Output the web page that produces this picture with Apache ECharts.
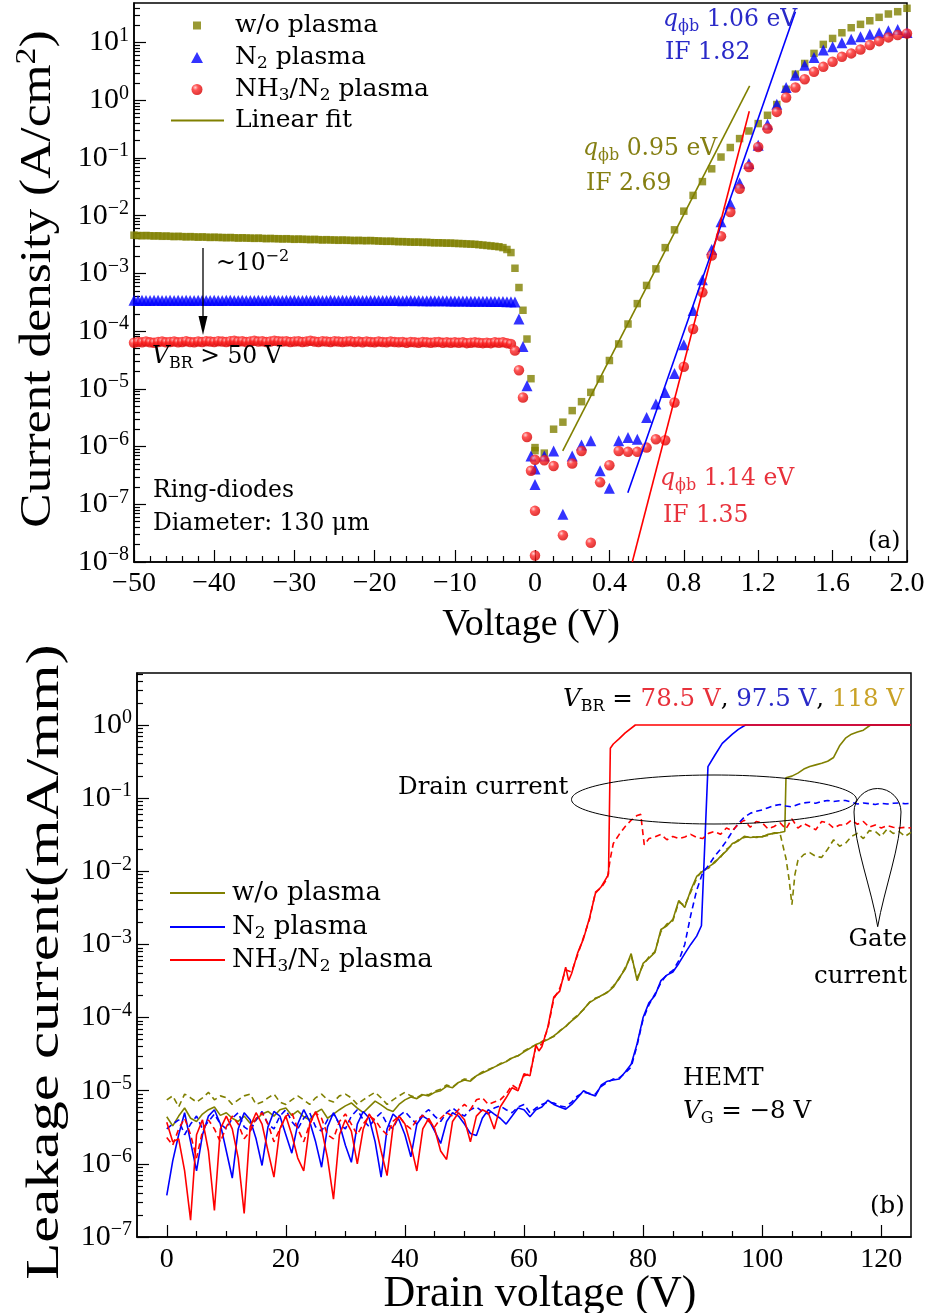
<!DOCTYPE html>
<html>
<head>
<meta charset="utf-8">
<title>Ring-diode and HEMT leakage</title>
<script src="https://cdn.jsdelivr.net/npm/echarts@6.0.0/dist/echarts.min.js"></script>
<style>
html,body{margin:0;padding:0;background:#ffffff;}
#chart{width:930px;height:1313px;}
</style>
</head>
<body>
<div id="chart"></div>
<script>
// ================= DATA =================
function range(a, b) { const r = []; for (let v = a; v <= b; v++) r.push(v); return r; }

// ---- Panel (a): ring diodes, current density (A/cm^2) ----
const revV = Array.from({length: 101}, (_, i) => -50 + i * 0.5);            // reverse sweep grid (V)
const fwdV = Array.from({length: 41}, (_, i) => +(i * 0.05).toFixed(2));      // forward sweep grid (V)

const woRevJ = [
  4.6e-3,4.55e-3,4.5e-3,4.55e-3,4.5e-3,4.45e-3,4.5e-3,4.4e-3,4.45e-3,4.4e-3,4.35e-3,4.4e-3,4.35e-3,4.3e-3,4.35e-3,4.3e-3,4.25e-3,4.3e-3,4.25e-3,4.2e-3,4.25e-3,
  4.2e-3,4.2e-3,4.15e-3,4.2e-3,4.15e-3,4.1e-3,4.15e-3,4.1e-3,4.1e-3,4.05e-3,4.1e-3,4.05e-3,4.0e-3,4.05e-3,4.0e-3,4.0e-3,3.95e-3,4.0e-3,3.95e-3,3.9e-3,
  3.95e-3,3.9e-3,3.9e-3,3.85e-3,3.9e-3,3.85e-3,3.8e-3,3.85e-3,3.8e-3,3.8e-3,3.75e-3,3.8e-3,3.75e-3,3.75e-3,3.7e-3,3.75e-3,3.7e-3,3.7e-3,3.72e-3,3.68e-3,
  3.65e-3,3.62e-3,3.6e-3,3.62e-3,3.58e-3,3.55e-3,3.56e-3,3.52e-3,3.5e-3,3.48e-3,3.5e-3,3.45e-3,3.46e-3,3.42e-3,3.4e-3,3.4e-3,3.38e-3,3.35e-3,3.36e-3,3.32e-3,
  3.3e-3,3.28e-3,3.25e-3,3.22e-3,3.2e-3,3.15e-3,3.1e-3,3.05e-3,3.0e-3,2.95e-3,2.9e-3,2.8e-3,2.6e-3,
  2.3e-3,1.23e-3,5.7e-4,2.3e-4,7.3e-5,1.5e-5,9.6e-7
];
const woFwdJ = [
  8.5e-7,7.7e-7,2.0e-6,2.65e-6,4.2e-6,6.0e-6,8.7e-6,1.48e-5,3.1e-5,6.0e-5,
  1.33e-4,3.0e-4,6.2e-4,1.2e-3,2.8e-3,5.7e-3,1.2e-2,2.25e-2,3.9e-2,6.5e-2,
  0.104,0.152,0.217,0.294,0.395,0.55,0.845,1.55,2.84,4.35,
  6.5,9.3,11.8,14.8,18.1,20.7,23.9,27.4,31.3,34.3,39.3
];
const n2RevJ = [
  3.42e-4,3.40e-4,3.43e-4,3.41e-4,3.40e-4,3.42e-4,3.44e-4,3.41e-4,3.40e-4,3.42e-4,
  3.41e-4,3.43e-4,3.40e-4,3.42e-4,3.41e-4,3.40e-4,3.43e-4,3.42e-4,3.40e-4,3.41e-4,
  3.42e-4,3.41e-4,3.40e-4,3.43e-4,3.42e-4,3.40e-4,3.41e-4,3.43e-4,3.41e-4,3.40e-4,
  3.41e-4,3.42e-4,3.40e-4,3.41e-4,3.43e-4,3.42e-4,3.40e-4,3.41e-4,3.42e-4,3.40e-4,
  3.42e-4,3.40e-4,3.41e-4,3.43e-4,3.41e-4,3.40e-4,3.42e-4,3.41e-4,3.40e-4,3.42e-4,
  3.41e-4,3.40e-4,3.42e-4,3.41e-4,3.40e-4,3.42e-4,3.41e-4,3.40e-4,3.41e-4,3.40e-4,
  3.40e-4,3.41e-4,3.39e-4,3.40e-4,3.41e-4,3.39e-4,3.40e-4,3.38e-4,3.40e-4,3.39e-4,
  3.38e-4,3.39e-4,3.37e-4,3.38e-4,3.36e-4,3.37e-4,3.36e-4,3.35e-4,3.36e-4,3.34e-4,
  3.33e-4,3.34e-4,3.32e-4,3.33e-4,3.31e-4,3.30e-4,3.31e-4,3.30e-4,3.29e-4,3.28e-4,
  3.27e-4,3.26e-4,3.25e-4,3.24e-4,3.22e-4,3.2e-4,
  1.63e-4,5.4e-5,1.13e-5,6.9e-7,4.1e-7
];
const n2FwdJ = [
  2.2e-7,6.9e-7,8.4e-7,6.7e-8,6.9e-7,1.07e-6,1.26e-6,3.8e-7,1.9e-7,1.26e-6,
  1.43e-6,1.34e-6,3.2e-6,5.45e-6,8.65e-6,1.85e-5,5.8e-5,2.27e-4,7.8e-4,2.6e-3,
  7.9e-3,1.62e-2,3.7e-2,8.0e-2,0.166,0.385,0.855,1.67,2.73,4.06,
  5.53,7.41,8.45,9.9,11.4,12.6,13.9,14.8,16.0,16.9,15.0
];
const nh3RevJ = [
  6.3e-5,6.5e-5,6.4e-5,6.6e-5,6.4e-5,6.3e-5,6.5e-5,6.6e-5,6.4e-5,6.5e-5,
  6.6e-5,6.4e-5,6.5e-5,6.7e-5,6.5e-5,6.4e-5,6.6e-5,6.5e-5,6.7e-5,6.6e-5,
  6.5e-5,6.7e-5,6.6e-5,6.5e-5,6.7e-5,6.8e-5,6.6e-5,6.7e-5,6.5e-5,6.6e-5,
  6.8e-5,6.6e-5,6.7e-5,6.5e-5,6.6e-5,6.8e-5,6.7e-5,6.6e-5,6.7e-5,6.5e-5,
  6.6e-5,6.7e-5,6.5e-5,6.6e-5,6.8e-5,6.6e-5,6.5e-5,6.7e-5,6.6e-5,6.5e-5,
  6.7e-5,6.6e-5,6.5e-5,6.6e-5,6.7e-5,6.5e-5,6.6e-5,6.4e-5,6.6e-5,6.5e-5,
  6.4e-5,6.6e-5,6.5e-5,6.4e-5,6.6e-5,6.5e-5,6.4e-5,6.5e-5,6.3e-5,6.5e-5,
  6.4e-5,6.3e-5,6.5e-5,6.4e-5,6.3e-5,6.4e-5,6.5e-5,6.3e-5,6.4e-5,6.3e-5,
  6.4e-5,6.3e-5,6.4e-5,6.2e-5,6.3e-5,6.4e-5,6.3e-5,6.2e-5,6.3e-5,6.2e-5,
  6.4e-5,6.3e-5,6.4e-5,6.2e-5,6.0e-5,4.6e-5,
  2.1e-5,7.1e-6,1.47e-6,3.8e-7,5.9e-7
];
const nh3FwdJ = [
  7.7e-8,5.8e-7,4.6e-7,2.9e-8,5.1e-7,8.4e-7,2.15e-8,2.4e-7,4.75e-7,8.4e-7,
  8.1e-7,8.1e-7,9.6e-7,1.34e-6,1.29e-6,5.8e-6,2.42e-5,1.09e-4,4.7e-4,2.05e-3,
  4.4e-3,1.16e-2,2.94e-2,6.98e-2,0.155,0.324,0.63,1.12,1.67,2.32,
  3.11,3.8,4.64,5.67,6.5,7.6,9.05,10.6,12.3,13.5,14.4
];
const nh3ExtraV = [0.0];
const nh3ExtraJ = [1.3e-8];

// linear fits (end points)
const fitWoV = [0.149, 1.154],  fitWoJ = [8.4e-7, 1.78];
const fitN2V = [0.499, 1.40],   fitN2J = [1.59e-7, 34.3];
const fitNh3V = [0.523, 1.152], fitNh3J = [1.0e-8, 0.647];

// axis ticks, panel (a)
const topXMajor  = [-50, -40, -30, -20, -10, 0, 0.4, 0.8, 1.2, 1.6, 2.0];
const topXLabels = ['\u221250', '\u221240', '\u221230', '\u221220', '\u221210', '0', '0.4', '0.8', '1.2', '1.6', '2.0'];
const topYDecades = [-8, -7, -6, -5, -4, -3, -2, -1, 0, 1];

// ---- Panel (b): HEMT leakage (mA/mm) ----
const bLowV = range(0, 60);

const woDrainLow = [4.4e-6,3.3e-6,4.5e-6,5.8e-6,4.2e-6,3.8e-6,4.8e-6,5.5e-6,6.0e-6,4.6e-6,5.0e-6,4.2e-6,3.8e-6,4.5e-6,3.6e-6,4.0e-6,4.8e-6,5.2e-6,4.5e-6,5.5e-6,5.8e-6,4.6e-6,5.3e-6,4.4e-6,4.0e-6,5.0e-6,5.6e-6,4.2e-6,4.8e-6,5.5e-6,6.2e-6,6.8e-6,5.8e-6,5.0e-6,6.0e-6,7.2e-6,6.4e-6,5.6e-6,5.2e-6,6.5e-6,7.5e-6,8.2e-6,7.8e-6,8.8e-6,8.5e-6,9.5e-6,1.0e-5,1.15e-5,1.1e-5,1.3e-5,1.4e-5,1.35e-5,1.6e-5,1.75e-5,1.9e-5,2.1e-5,2.3e-5,2.5e-5,2.8e-5,3.0e-5,3.4e-5];
const woDrainHiV = range(61, 103).concat([103.8, 104, 105, 106, 107, 108, 109, 110, 111, 112, 113, 114, 115, 116, 117, 118.2, 125]);
const woDrainHiI = [3.8e-5,4.3e-5,4.6e-5,5.0e-5,5.6e-5,6.5e-5,7.6e-5,9.0e-5,1.05e-4,1.3e-4,1.6e-4,1.8e-4,2.0e-4,2.2e-4,2.6e-4,3.5e-4,4.6e-4,7.5e-4,3.2e-4,5.5e-4,6.5e-4,7.8e-4,1.6e-3,1.8e-3,2.2e-3,4.0e-3,3.2e-3,5.5e-3,8.5e-3,1.0e-2,1.15e-2,1.3e-2,1.6e-2,1.9e-2,2.4e-2,2.6e-2,3.0e-2,2.9e-2,2.95e-2,2.95e-2,3.2e-2,3.3e-2,3.4e-2,
  3.5e-2,0.19,0.2,0.22,0.25,0.27,0.285,0.30,0.32,0.36,0.52,0.66,0.75,0.8,0.85,1.0,1.0];
const woGateLow = [7.5e-6,8.5e-6,6.0e-6,9.0e-6,8.0e-6,7.0e-6,8.0e-6,9.5e-6,7.5e-6,8.5e-6,8.0e-6,6.5e-6,7.5e-6,8.5e-6,9.0e-6,6.5e-6,7.0e-6,8.0e-6,9.0e-6,7.0e-6,6.5e-6,7.5e-6,8.5e-6,7.5e-6,6.5e-6,8.0e-6,9.0e-6,7.5e-6,7.0e-6,8.5e-6,9.0e-6,8.0e-6,6.5e-6,7.5e-6,8.5e-6,9.5e-6,8.0e-6,6.5e-6,7.5e-6,8.5e-6,9.5e-6,8.5e-6,8.0e-6,9.0e-6,8.8e-6,9.8e-6,1.05e-5,1.2e-5,1.12e-5,1.3e-5,1.45e-5,1.4e-5,1.6e-5,1.8e-5,1.95e-5,2.1e-5,2.35e-5,2.5e-5,2.85e-5,3.0e-5,3.5e-5];
const woGateHiV = range(61, 103).concat([104, 104.5, 105, 105.5]).concat(range(106, 125));
const woGateHiI = [3.9e-5,4.2e-5,4.7e-5,5.1e-5,5.5e-5,6.6e-5,7.5e-5,9.2e-5,1.08e-4,1.28e-4,1.62e-4,1.85e-4,1.95e-4,2.25e-4,2.7e-4,3.4e-4,4.8e-4,7.0e-4,3.5e-4,5.2e-4,6.8e-4,8.0e-4,1.5e-3,1.9e-3,2.1e-3,3.8e-3,3.4e-3,5.2e-3,8.0e-3,1.05e-2,1.1e-2,1.35e-2,1.55e-2,2.0e-2,2.3e-2,2.7e-2,2.9e-2,3.0e-2,2.9e-2,3.0e-2,3.1e-2,3.35e-2,3.3e-2,
  1.5e-2,8e-3,3.5e-3,9e-3,
  1.4e-2,1.7e-2,1.8e-2,1.6e-2,1.55e-2,2.0e-2,2.7e-2,2.2e-2,2.4e-2,3.0e-2,3.3e-2,2.8e-2,3.6e-2,3.5e-2,3.0e-2,3.8e-2,3.3e-2,3.5e-2,3.0e-2,3.4e-2];

const n2DrainLow = [3.7e-7,1.1e-6,2.5e-6,5.0e-6,2.0e-6,8.0e-7,2.5e-6,4.5e-6,5.5e-6,3.5e-6,1.5e-6,6.4e-7,3.0e-6,5.0e-6,4.0e-6,2.2e-6,9.5e-7,3.2e-6,5.2e-6,4.5e-6,2.5e-6,1.4e-6,3.5e-6,5.5e-6,3.8e-6,2.0e-6,9.0e-7,3.2e-6,5.0e-6,3.5e-6,1.8e-6,1.05e-6,3.5e-6,5.2e-6,4.2e-6,2.0e-6,6.6e-7,3.0e-6,4.8e-6,4.0e-6,2.5e-6,1.25e-6,3.5e-6,4.5e-6,4.0e-6,2.8e-6,1.9e-6,3.8e-6,5.0e-6,4.5e-6,3.5e-6,2.6e-6,2.45e-6,4.2e-6,5.5e-6,4.8e-6,4.2e-6,3.5e-6,4.5e-6,5.8e-6,5.5e-6];
const n2DrainHiV = range(61, 89).concat([89.8, 90.9, 92, 93.3, 95, 96, 97.2, 125]);
const n2DrainHiI = [4.4e-6,5.5e-6,6.0e-6,7.4e-6,6.5e-6,6.0e-6,5.6e-6,6.5e-6,8.0e-6,1.0e-5,9.0e-6,8.5e-6,1.2e-5,1.35e-5,1.4e-5,1.45e-5,1.8e-5,2.3e-5,4.4e-5,1.0e-4,1.6e-4,2.0e-4,3.2e-4,3.8e-4,4.2e-4,5.5e-4,7.5e-4,1.0e-3,1.3e-3,
  1.8e-3,0.27,0.38,0.56,0.75,0.87,1.0,1.0];
const n2GateLow = [3.0e-6,3.5e-6,4.0e-6,2.5e-6,3.5e-6,4.5e-6,3.0e-6,3.8e-6,4.8e-6,3.5e-6,3.0e-6,4.2e-6,5.0e-6,3.2e-6,2.8e-6,4.0e-6,5.2e-6,3.5e-6,3.0e-6,4.5e-6,5.5e-6,3.8e-6,3.0e-6,4.2e-6,5.0e-6,3.2e-6,2.8e-6,4.0e-6,4.8e-6,3.5e-6,3.0e-6,4.5e-6,5.5e-6,4.0e-6,3.2e-6,4.2e-6,5.0e-6,3.5e-6,3.0e-6,4.5e-6,5.2e-6,4.2e-6,3.5e-6,4.8e-6,5.5e-6,4.5e-6,3.8e-6,5.0e-6,5.8e-6,5.0e-6,4.5e-6,5.5e-6,6.0e-6,5.2e-6,4.8e-6,5.8e-6,6.2e-6,5.5e-6,5.0e-6,6.0e-6,6.5e-6];
const n2GateHiV = range(61, 125);
const n2GateHiI = [5.0e-6,5.8e-6,6.5e-6,7.0e-6,6.8e-6,6.2e-6,6.0e-6,7.0e-6,8.5e-6,9.5e-6,9.2e-6,9.0e-6,1.15e-5,1.3e-5,1.45e-5,1.5e-5,1.75e-5,2.1e-5,4.2e-5,9.5e-5,1.5e-4,2.1e-4,3.0e-4,3.9e-4,4.4e-4,
  6.0e-4,1.0e-3,2.5e-3,5.5e-3,9.5e-3,1.2e-2,1.6e-2,2.0e-2,2.6e-2,3.5e-2,4.5e-2,5.5e-2,6.2e-2,6.6e-2,6.9e-2,7.4e-2,7.9e-2,8.2e-2,7.8e-2,7.6e-2,8.2e-2,8.6e-2,8.8e-2,8.5e-2,9.0e-2,9.3e-2,9.0e-2,9.2e-2,9.3e-2,8.8e-2,8.3e-2,8.6e-2,8.4e-2,8.2e-2,8.5e-2,8.3e-2,8.5e-2,8.6e-2,8.4e-2,8.5e-2];

const nh3DrainLow = [3.7e-6,2.0e-6,2.2e-6,8e-7,1.7e-7,2.5e-6,4.0e-6,1.5e-6,2.3e-7,3.0e-6,4.5e-6,3.0e-6,1.2e-6,2.1e-7,3.2e-6,5.0e-6,3.5e-6,1.5e-6,6.6e-7,3.0e-6,4.5e-6,2.5e-6,1.2e-6,8.0e-7,3.5e-6,5.2e-6,3.0e-6,1.2e-6,3.3e-7,2.5e-6,4.0e-6,2.8e-6,1.0e-6,3.0e-6,4.8e-6,3.5e-6,1.5e-6,6.9e-7,3.2e-6,4.5e-6,3.5e-6,1.8e-6,8.0e-7,3.0e-6,4.2e-6,3.0e-6,1.5e-6,1.15e-6,3.8e-6,5.0e-6,4.0e-6,2.0e-6,4.5e-6,5.5e-6,5.0e-6,3.0e-6,6.0e-6,8.0e-6,1.1e-5,1.0e-5,1.7e-5];
const nh3DrainHiV = [61, 62, 62.5, 63, 64, 65, 66, 67, 67.5, 68, 69, 70, 71, 72, 73, 74, 74.2, 74.5, 75, 76, 77, 78.7, 125];
const nh3DrainHiI = [1.6e-5,4.2e-5,3.5e-5,4.0e-5,7.4e-5,1.9e-4,2.3e-4,4.9e-4,3.2e-4,4.0e-4,7.6e-4,1.2e-3,2.3e-3,5.0e-3,6.2e-3,8.5e-3,9.3e-3,0.48,0.55,0.65,0.78,1.0,1.0];
const nh3GateLow = [2.3e-6,1.8e-6,3.0e-6,4.2e-6,2.5e-6,1.2e-6,2.8e-6,4.0e-6,3.0e-6,2.0e-6,3.2e-6,4.5e-6,3.5e-6,2.2e-6,2.8e-6,4.2e-6,5.0e-6,3.5e-6,2.0e-6,3.0e-6,4.5e-6,5.0e-6,3.0e-6,2.0e-6,3.5e-6,5.0e-6,4.2e-6,2.5e-6,2.2e-6,3.8e-6,4.8e-6,3.5e-6,2.5e-6,3.5e-6,4.5e-6,4.0e-6,3.0e-6,2.5e-6,3.8e-6,4.5e-6,3.5e-6,3.0e-6,4.0e-6,4.6e-6,3.8e-6,3.2e-6,4.2e-6,5.0e-6,4.5e-6,5.5e-6,6.5e-6,5.5e-6,7.5e-6,8.0e-6,6.5e-6,7.0e-6,7.5e-6,9.0e-6,1.2e-5,1.05e-5,1.6e-5];
const nh3GateHiV = range(61, 74).concat([74.5, 75, 76, 77, 78, 79, 79.6, 80.2]).concat(range(81, 125));
const nh3GateHiI = [1.7e-5,4.0e-5,4.3e-5,7.0e-5,1.8e-4,2.5e-4,4.5e-4,4.2e-4,7.2e-4,1.25e-3,2.2e-3,5.2e-3,6.0e-3,8.0e-3,
  1.5e-2,2.4e-2,3.2e-2,4.1e-2,5.0e-2,5.8e-2,6.0e-2,2.3e-2,
  2.8e-2,2.95e-2,3.2e-2,2.7e-2,3.0e-2,2.8e-2,2.95e-2,3.2e-2,2.9e-2,2.8e-2,3.3e-2,3.5e-2,3.2e-2,3.9e-2,3.6e-2,4.4e-2,5.0e-2,4.0e-2,4.8e-2,4.6e-2,3.8e-2,4.1e-2,4.6e-2,3.8e-2,5.2e-2,3.9e-2,4.5e-2,4.1e-2,3.7e-2,4.8e-2,4.6e-2,3.9e-2,4.3e-2,4.3e-2,5.0e-2,4.4e-2,4.8e-2,4.0e-2,4.3e-2,3.9e-2,4.2e-2,4.0e-2,3.9e-2,4.0e-2,3.9e-2];

const botXMajor = [0, 20, 40, 60, 80, 100, 120];
const botYDecades = [-7, -6, -5, -4, -3, -2, -1, 0];

// ================= SCALES / STYLE =================
const FF = 'DejaVu Serif';
const FT = 'Liberation Serif';
const NEG_PX = 8.02, POS_PX = 186;          // broken voltage axis of panel (a)
const ux = v => (v < 0 ? v * NEG_PX : v * POS_PX);
const lg = Math.log10;
const C_OL = '#808000', C_BL = '#0000ff', C_RD = '#ff0000';
const T_BL = '#2a2ac8', T_OL = '#857f12', T_RD = '#e8313b', T_GD = '#c9a227';

function pts(vs, js, fx) { return vs.map((v, k) => [fx ? fx(v) : v, lg(js[k])]); }

const topXMinor = [];
for (let v = -48; v < 0; v += 2) if (v % 10 !== 0) topXMinor.push(ux(v));
for (let k = 1; k < 20; k++) if (k % 4 !== 0) topXMinor.push(ux(k / 10));
const topXLabelMap = {};
topXMajor.forEach((v, i) => { topXLabelMap[ux(v).toFixed(3)] = topXLabels[i]; });

const TOP_YMAX = 1.686, BOT_YMAX = 0.711;
function logMinor(d0, d1, max) {
  const r = [];
  for (let n = d0; n <= d1; n++) for (let k = 2; k <= 9; k++) { const t = n + lg(k); if (t < max) r.push(t); }
  return r;
}
const botXMinor = [];
for (let v = 5; v < 125; v += 5) if (v % 20 !== 0) botXMinor.push(v);

const supFmt = v => { const n = Math.round(v); return '{b|10}{p|' + (n < 0 ? '\u2212' + (-n) : n) + '}'; };
const yRich = {
  b: {fontFamily: FT, fontSize: 30, lineHeight: 34, color: '#000'},
  p: {fontFamily: FT, fontSize: 20, lineHeight: 22, verticalAlign: 'top', color: '#000'}
};

function mkRich(fs) {
  const s = Math.round(fs * 0.66);
  return {
    r:  {fontFamily: FF, fontSize: fs, lineHeight: 30},
    i:  {fontFamily: FF, fontSize: fs, lineHeight: 30, fontStyle: 'italic'},
    sb: {fontFamily: FF, fontSize: s, lineHeight: 16, verticalAlign: 'bottom'},
    sp: {fontFamily: FF, fontSize: s, lineHeight: 20, verticalAlign: 'top'},
    rd: {fontFamily: FF, fontSize: fs, lineHeight: 30, fill: T_RD, color: T_RD},
    bl: {fontFamily: FF, fontSize: fs, lineHeight: 30, fill: T_BL, color: T_BL},
    gd: {fontFamily: FF, fontSize: fs, lineHeight: 30, fill: T_GD, color: T_GD}
  };
}
const RICH_A = mkRich(23.5), RICH_B = mkRich(24.5);
const RICH_T = {
  t:  {fontFamily: FT, fontSize: 38, lineHeight: 44},
  tb: {fontFamily: FT, fontSize: 44, lineHeight: 50},
  ty: {fontFamily: FT, fontSize: 44, lineHeight: 50},
  tyb:{fontFamily: FT, fontSize: 46, lineHeight: 52},
  tp: {fontFamily: FT, fontSize: 29, lineHeight: 32, verticalAlign: 'top'}
};
function txt(x, y, text, rich, fill, align, extra) {
  return Object.assign({type: 'text', x: x, y: y, z: 50,
    style: {text: text, rich: rich, fill: fill || '#000', align: align || 'left', verticalAlign: 'middle', fontFamily: FF, fontSize: 23}}, extra || {});
}

function minorAxis(gridIndex, min, max, ticks, isX) {
  return {gridIndex, type: 'value', min, max, position: isX ? 'bottom' : 'left',
    axisLine: {show: false, onZero: false}, axisLabel: {show: false}, splitLine: {show: false},
    axisTick: {show: true, inside: true, length: 6, customValues: ticks, lineStyle: {color: '#000', width: 1.2}}};
}

const legendText = {
  'w/o plasma': '{r|w/o plasma}',
  'N2 plasma': '{r|N}{sb|2}{r| plasma}',
  'NH3/N2 plasma': '{r|NH}{sb|3}{r|/N}{sb|2}{r| plasma}',
  'Linear fit': '{r|Linear fit}'
};
function legendItem(name, left, top, w, h, padLeft, fs, icon) {
  const l = {data: [name], left: left, top: top, padding: 0, itemWidth: w, itemHeight: h, selectedMode: false,
    formatter: n => legendText[n.replace(/^b:/, '')],
    textStyle: {fontFamily: FF, fontSize: fs, color: '#000', padding: [0, 0, 0, padLeft], rich: mkRich(fs)}};
  if (icon) l.icon = icon;
  return l;
}

const redBall = {type: 'radial', x: 0.35, y: 0.32, r: 0.7,
  colorStops: [{offset: 0, color: '#ffc8c8'}, {offset: 0.35, color: '#ff2a2a'}, {offset: 1, color: '#d60000'}]};

const option = {
  animation: false,
  backgroundColor: '#ffffff',
  grid: [
    {left: 134, top: 3, width: 773, height: 559, show: true, borderColor: '#000', borderWidth: 1.5, backgroundColor: 'transparent'},
    {left: 137, top: 673, width: 774, height: 564, show: true, borderColor: '#000', borderWidth: 1.5, backgroundColor: 'transparent'}
  ],
  xAxis: [
    {gridIndex: 0, type: 'value', min: ux(-50), max: ux(2.0), position: 'bottom',
      axisLine: {show: true, onZero: false, lineStyle: {color: '#000', width: 1.5}},
      axisTick: {show: true, inside: true, length: 12, customValues: topXMajor.map(ux), lineStyle: {color: '#000', width: 1.2}},
      axisLabel: {show: true, customValues: topXMajor.map(ux), formatter: v => topXLabelMap[v.toFixed(3)] || '', margin: 8,
        fontFamily: FT, fontSize: 28, color: '#000'},
      splitLine: {show: false}},
    minorAxis(0, ux(-50), ux(2.0), topXMinor, true),
    {gridIndex: 1, type: 'value', min: -5, max: 125, position: 'bottom',
      axisLine: {show: true, onZero: false, lineStyle: {color: '#000', width: 1.5}},
      axisTick: {show: true, inside: true, length: 12, customValues: botXMajor, lineStyle: {color: '#000', width: 1.2}},
      axisLabel: {show: true, customValues: botXMajor, margin: 9, fontFamily: FT, fontSize: 28, color: '#000'},
      splitLine: {show: false}},
    minorAxis(1, -5, 125, botXMinor, true)
  ],
  yAxis: [
    {gridIndex: 0, type: 'value', min: -8, max: TOP_YMAX, position: 'left',
      axisLine: {show: true, onZero: false, lineStyle: {color: '#000', width: 1.5}},
      axisTick: {show: true, inside: true, length: 12, customValues: topYDecades, lineStyle: {color: '#000', width: 1.2}},
      axisLabel: {show: true, customValues: topYDecades, formatter: supFmt, rich: yRich, margin: 5},
      splitLine: {show: false}},
    minorAxis(0, -8, TOP_YMAX, logMinor(-8, 1, TOP_YMAX), false),
    {gridIndex: 1, type: 'value', min: -7, max: BOT_YMAX, position: 'left',
      axisLine: {show: true, onZero: false, lineStyle: {color: '#000', width: 1.5}},
      axisTick: {show: true, inside: true, length: 12, customValues: botYDecades, lineStyle: {color: '#000', width: 1.2}},
      axisLabel: {show: true, customValues: botYDecades, formatter: supFmt, rich: yRich, margin: 5},
      splitLine: {show: false}},
    minorAxis(1, -7, BOT_YMAX, logMinor(-7, 0, BOT_YMAX), false)
  ],
  legend: [
    legendItem('w/o plasma', 193, 13, 8, 8, 29, 25),
    legendItem('N2 plasma', 191, 45, 12, 11, 27, 25),
    legendItem('NH3/N2 plasma', 191.5, 77, 11, 11, 27.5, 25),
    legendItem('Linear fit', 171, 108, 53, 2, 6, 25, 'rect'),
    legendItem('b:w/o plasma', 170, 880, 55, 2, 2, 26, 'rect'),
    legendItem('b:N2 plasma', 170, 914, 55, 2, 2, 26, 'rect'),
    legendItem('b:NH3/N2 plasma', 170, 947, 55, 2, 2, 26, 'rect')
  ],
  series: [
    // ---- panel (a)
    {name: 'w/o plasma', type: 'scatter', xAxisIndex: 0, yAxisIndex: 0, symbol: 'rect', symbolSize: 7.5,
      itemStyle: {color: C_OL}, data: pts(revV, woRevJ, ux).concat(pts(fwdV, woFwdJ, ux))},
    {name: 'N2 plasma', type: 'scatter', xAxisIndex: 0, yAxisIndex: 0, symbol: 'triangle', symbolSize: 11,
      itemStyle: {color: C_BL}, data: pts(revV, n2RevJ, ux).concat(pts(fwdV, n2FwdJ, ux))},
    {name: 'NH3/N2 plasma', type: 'scatter', xAxisIndex: 0, yAxisIndex: 0, symbol: 'circle', symbolSize: 10.5,
      itemStyle: {color: redBall}, data: pts(revV, nh3RevJ, ux).concat(pts(fwdV, nh3FwdJ, ux)).concat(pts(nh3ExtraV, nh3ExtraJ, ux))},
    {name: 'Linear fit', type: 'line', xAxisIndex: 0, yAxisIndex: 0, symbol: 'none', lineStyle: {color: C_OL, width: 1.6},
      itemStyle: {color: C_OL}, data: pts(fitWoV, fitWoJ, ux), z: 5},
    {name: 'fit N2', type: 'line', xAxisIndex: 0, yAxisIndex: 0, symbol: 'none', lineStyle: {color: C_BL, width: 1.6},
      data: pts(fitN2V, fitN2J, ux), z: 5},
    {name: 'fit NH3', type: 'line', xAxisIndex: 0, yAxisIndex: 0, symbol: 'none', lineStyle: {color: C_RD, width: 1.6},
      data: pts(fitNh3V, fitNh3J, ux), z: 5},
    // ---- panel (b)
    {name: 'b:w/o plasma', type: 'line', xAxisIndex: 2, yAxisIndex: 2, symbol: 'none', lineStyle: {color: C_OL, width: 1.6},
      itemStyle: {color: C_OL}, data: pts(bLowV.concat(woDrainHiV), woDrainLow.concat(woDrainHiI))},
    {name: 'gate w/o', type: 'line', xAxisIndex: 2, yAxisIndex: 2, symbol: 'none', lineStyle: {color: C_OL, width: 1.6, type: [6, 4]},
      data: pts(bLowV.concat(woGateHiV), woGateLow.concat(woGateHiI))},
    {name: 'b:N2 plasma', type: 'line', xAxisIndex: 2, yAxisIndex: 2, symbol: 'none', lineStyle: {color: C_BL, width: 1.6},
      itemStyle: {color: C_BL}, data: pts(bLowV.concat(n2DrainHiV), n2DrainLow.concat(n2DrainHiI))},
    {name: 'gate N2', type: 'line', xAxisIndex: 2, yAxisIndex: 2, symbol: 'none', lineStyle: {color: C_BL, width: 1.6, type: [6, 4]},
      data: pts(bLowV.concat(n2GateHiV), n2GateLow.concat(n2GateHiI))},
    {name: 'b:NH3/N2 plasma', type: 'line', xAxisIndex: 2, yAxisIndex: 2, symbol: 'none', lineStyle: {color: C_RD, width: 1.6},
      itemStyle: {color: C_RD}, data: pts(bLowV.concat(nh3DrainHiV), nh3DrainLow.concat(nh3DrainHiI))},
    {name: 'gate NH3', type: 'line', xAxisIndex: 2, yAxisIndex: 2, symbol: 'none', lineStyle: {color: C_RD, width: 1.6, type: [6, 4]},
      data: pts(bLowV.concat(nh3GateHiV), nh3GateLow.concat(nh3GateHiI))}
  ],
  graphic: [
    // panel (a) annotations
    txt(663, 20, '{i|q}{sb|\u03d5b}{r| 1.06 eV}', RICH_A, T_BL),
    txt(665, 53, '{r|IF 1.82}', RICH_A, T_BL),
    txt(583, 149, '{i|q}{sb|\u03d5b}{r| 0.95 eV}', RICH_A, T_OL),
    txt(586, 184, '{r|IF 2.69}', RICH_A, T_OL),
    txt(660, 479, '{i|q}{sb|\u03d5b}{r| 1.14 eV}', RICH_A, T_RD),
    txt(663, 516, '{r|IF 1.35}', RICH_A, T_RD),
    txt(868, 542, '{r|(a)}', RICH_A),
    txt(216, 264, '{r|~10}{sp|\u22122}', RICH_A),
    txt(152, 357, '{i|V}{sb|BR}{r| > 50 V}', RICH_A),
    txt(153, 491, '{r|Ring-diodes}', RICH_A),
    txt(153, 524, '{r|Diameter: 130 \u03bcm}', RICH_A),
    {type: 'line', z: 50, shape: {x1: 203, y1: 248, x2: 203, y2: 320}, style: {stroke: '#000', lineWidth: 1.3}},
    {type: 'polygon', z: 50, shape: {points: [[198.5, 316], [207.5, 316], [203, 335]]}, style: {fill: '#000'}},
    // axis titles
    txt(531, 625, '{t|Voltage (V)}', RICH_T, '#000', 'center'),
    txt(38, 279, '{ty|Current density (A/cm}{tp|2}{ty|)}', RICH_T, '#000', 'center', {rotation: Math.PI / 2, scaleX: 1.17}),
    txt(540, 1294, '{tb|Drain voltage (V)}', RICH_T, '#000', 'center'),
    txt(46, 962, '{tyb|Leakage current(mA/mm)}', RICH_T, '#000', 'center', {rotation: Math.PI / 2, scaleX: 1.32}),
    // panel (b) annotations
    txt(563, 700, '{i|V}{sb|BR}{r| = }{rd|78.5 V}{r|, }{bl|97.5 V}{r|, }{gd|118 V}', RICH_B),
    txt(398, 788, '{r|Drain current}', RICH_B),
    {type: 'ellipse', z: 40, shape: {cx: 714, cy: 799.5, rx: 142.5, ry: 24.5}, style: {fill: 'none', stroke: '#000', lineWidth: 1}},
    {type: 'bezierCurve', z: 40, shape: {x1: 877.7, y1: 926.7, cpx1: 872, cpy1: 890, cpx2: 854, cpy2: 845, x2: 854, y2: 812},
      style: {fill: 'none', stroke: '#000', lineWidth: 1}},
    {type: 'arc', z: 40, shape: {cx: 877.5, cy: 812, r: 23.5, startAngle: Math.PI, endAngle: 2 * Math.PI, clockwise: true},
      style: {fill: 'none', stroke: '#000', lineWidth: 1}},
    {type: 'bezierCurve', z: 40, shape: {x1: 901, y1: 812, cpx1: 901, cpy1: 845, cpx2: 884, cpy2: 890, x2: 877.7, y2: 926.7},
      style: {fill: 'none', stroke: '#000', lineWidth: 1}},
    txt(907, 940, '{r|Gate}', RICH_B, '#000', 'right'),
    txt(907, 977, '{r|current}', RICH_B, '#000', 'right'),
    txt(683, 1079, '{r|HEMT}', RICH_B),
    txt(683, 1112, '{i|V}{sb|G}{r| = \u22128 V}', RICH_B),
    txt(870, 1207, '{r|(b)}', RICH_B)
  ]
};

const chart = echarts.init(document.getElementById('chart'), null, {renderer: 'canvas'});
chart.setOption(option);
</script>
</body>
</html>
